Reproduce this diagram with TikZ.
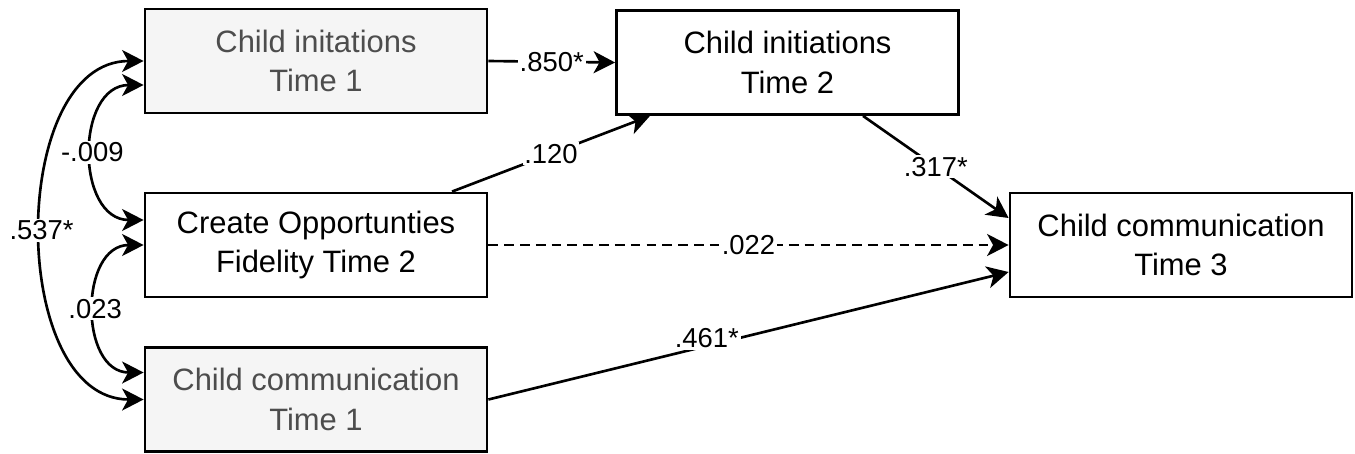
\documentclass[tikz,border=0pt]{standalone}
\usepackage{fontspec}
\setmainfont{Liberation Sans}
\usetikzlibrary{arrows.meta}
\definecolor{grisfondo}{HTML}{F5F5F5}
\definecolor{gristexto}{HTML}{4D4D4D}

\begin{document}
\begin{tikzpicture}[line width=1.5pt,>={Stealth[length=4.3mm,width=4.4mm,inset=1.2mm]},
  caja/.style={draw,line width=1.6pt,minimum width=6.84cm,minimum height=2.08cm,
    align=center,inner sep=0pt,font=\fontsize{17.6}{22.5}\selectfont},
  cajagris/.style={caja,fill=grisfondo,text=gristexto},
  coef/.style={fill=white,inner sep=1pt,font=\fontsize{15.6}{18}\selectfont}]
  \useasboundingbox (0,0) rectangle (27.1,-9.06);
  % ===================== variables =====================
  % tiempo 1 (izquierda)
  \node[cajagris] (ci1) at (6.32,-1.22) {Child initations\\Time 1};
  \node[caja]     (co2) at (6.32,-4.90) {Create Opportunties\\Fidelity Time 2};
  \node[cajagris] (cc1) at (6.32,-7.99) {Child communication\\Time 1};
  % tiempo 2 (arriba)
  \node[caja]     (ci2) at (15.75,-1.25) {Child initiations\\Time 2};
  % tiempo 3 (derecha)
  \node[caja]     (cc3) at (23.62,-4.90) {Child communication\\Time 3};
  % ===================== covarianzas =====================
  \draw[<->] (ci1.west) to[out=180,in=180,looseness=1.03] node[coef]{.537*} (cc1.west);
  \draw[<->] ([yshift=-0.48cm]ci1.west) to[out=180,in=180,looseness=1.3] node[coef]{-.009} ([yshift=0.5cm]co2.west);
  \draw[<->] (co2.west) to[out=180,in=180,looseness=1.3] node[coef]{.023} ([yshift=0.54cm]cc1.west);
  % ===================== trayectorias =====================
  \draw[->] (ci1.east) -- node[coef]{.850*} (ci2.west);
  \draw[->] ([xshift=2.72cm]co2.north) -- node[coef]{.120} ([xshift=-2.75cm]ci2.south);
  \draw[->] ([xshift=1.51cm]ci2.south) -- node[coef]{.317*} ([yshift=0.54cm]cc3.west);
  \draw[->,dash pattern=on 5.5pt off 3.5pt] (co2.east) -- node[coef]{.022} (cc3.west);
  \draw[->] (cc1.east) -- node[coef,pos=0.42,yshift=0.15cm]{.461*} ([yshift=-0.54cm]cc3.west);
\end{tikzpicture}
\end{document}
